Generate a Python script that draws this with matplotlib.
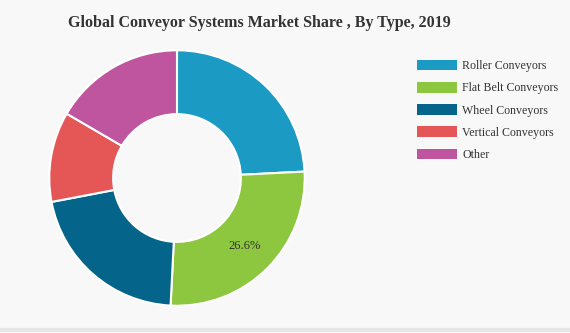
import matplotlib.pyplot as plt
from matplotlib.patches import Patch

# Market share by type
types = ['Roller Conveyors', 'Flat Belt Conveyors', 'Wheel Conveyors',
         'Vertical Conveyors', 'Other']
shares = [24.2, 26.6, 21.2, 11.4, 16.6]
colors = ['#1b9ac3', '#8dc63f', '#046489', '#e55757', '#c0559f']

plt.rcParams['font.family'] = ['Liberation Serif', 'DejaVu Serif']

fig = plt.figure(figsize=(5.7, 3.33), dpi=100, facecolor='#f8f8f8')
ax = fig.add_axes([48 / 570, 26 / 333, 258 / 570, 258 / 333])
ax.set_facecolor('#f8f8f8')


def show_pct(p):
    # only the largest slice gets a label
    return f'{p:.1f}%' if p > 25 else ''


wedges, _, autotexts = ax.pie(
    shares, colors=colors, startangle=90, counterclock=False,
    autopct=show_pct, pctdistance=0.75,
    wedgeprops=dict(width=0.5, edgecolor='white', linewidth=1.5),
    textprops=dict(fontsize=9, color='#333333'))
ax.set_xlim(-1.01, 1.01)
ax.set_ylim(-1.01, 1.01)
ax.set_aspect('equal')

fig.text(0.455, 0.93, 'Global Conveyor Systems Market Share , By Type, 2019',
         ha='center', va='center', fontsize=11.5, fontweight='bold',
         color='#333333')

handles = [Patch(facecolor=c, edgecolor='none') for c in colors]
fig.legend(handles, types, loc='upper left', bbox_to_anchor=(406 / 570, 1 - 49 / 333),
           frameon=False, fontsize=8.6, handlelength=3.4, handleheight=1.0,
           handletextpad=0.42, labelspacing=0.82, labelcolor='#333333')

# thin grey strip at the bottom of the card
fig.add_artist(plt.Line2D([0, 1], [3 / 333, 3 / 333], color='#e6e6e6', lw=3))

fig.savefig('out.png', dpi=100, facecolor=fig.get_facecolor())
